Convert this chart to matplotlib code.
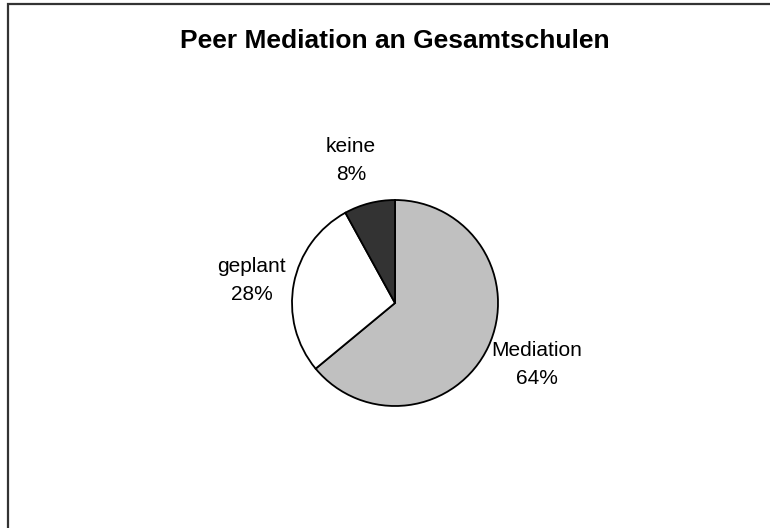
import numpy as np
import matplotlib.pyplot as plt
from matplotlib.patches import Rectangle

# ------------ data ------------
categories = ["Mediation", "geplant", "keine"]
shares = [64, 28, 8]
colors = ["#c0c0c0", "#ffffff", "#333333"]

plt.rcParams['font.family'] = ['Liberation Sans', 'DejaVu Sans']

# ------------ plotting ------------
fig = plt.figure(figsize=(7.7, 5.28), dpi=100)
fig.patch.set_facecolor('white')

# outer frame (only top/left visible in the original)
frame = Rectangle((7.5 / 770, -0.1), 1.2, (523.5 / 528) + 0.1,
                  transform=fig.transFigure, fill=False,
                  edgecolor='#333333', linewidth=1.6, clip_on=False)
fig.patches.append(frame)

ax = fig.add_axes([189 / 770, 19 / 528, 412 / 770, 412 / 528])
labels = [f"{c}\n{v}%" for c, v in zip(categories, shares)]
wedges, texts = ax.pie(
    shares,
    labels=labels,
    colors=colors,
    startangle=90,
    counterclock=False,
    wedgeprops=dict(edgecolor='black', linewidth=1.3),
    textprops=dict(fontsize=15, linespacing=1.6),
)

# label placement like the office chart (distance, angle tweak)
label_dist = [1.5, 1.41, 1.45]
label_rot = [1.6, 2.0, 2.8]
for w, t, d, r in zip(wedges, texts, label_dist, label_rot):
    ang = np.deg2rad((w.theta1 + w.theta2) / 2 + r)
    t.set_position((d * np.cos(ang), d * np.sin(ang)))
    t.set_ha('center')
    t.set_va('center')

ax.set_xlim(-2, 2)
ax.set_ylim(-2, 2)
ax.set_aspect('equal')
ax.axis('off')

fig.text(395 / 770, 1 - 41 / 528, "Peer Mediation an Gesamtschulen",
         ha='center', va='center', fontsize=19, fontweight='bold')

fig.savefig('out.png', dpi=100)
